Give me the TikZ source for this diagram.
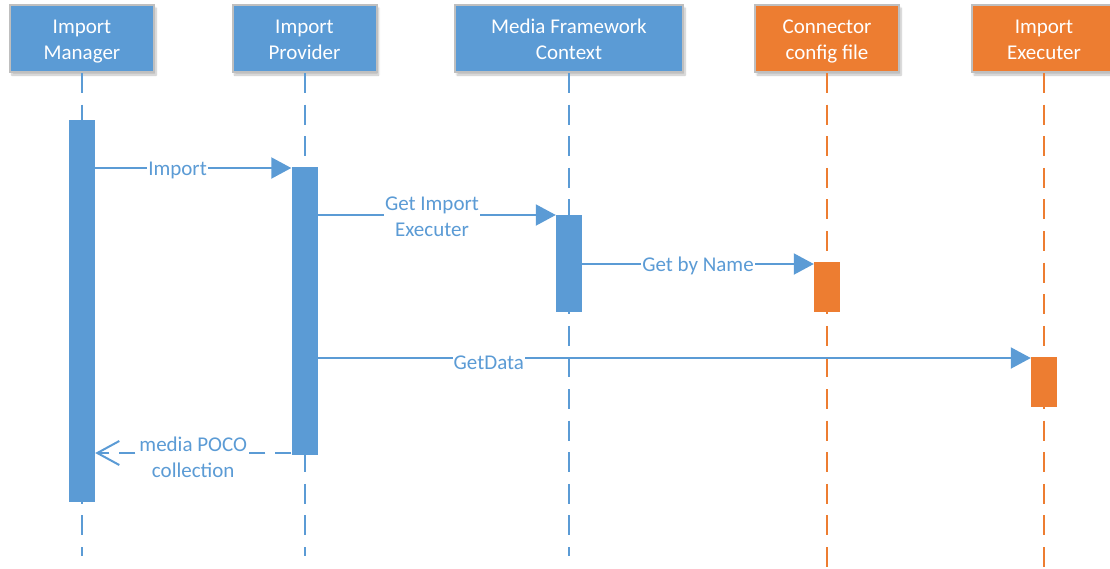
\documentclass[tikz,border=0pt]{standalone}
\usepackage{fontspec}
\setmainfont{Carlito}
\usetikzlibrary{arrows.meta,shadows.blur}
\definecolor{cblue}{HTML}{5B9BD5}
\definecolor{corange}{HTML}{ED7D31}
\definecolor{cgray}{HTML}{BFBFBF}
\newcommand\topst{\rule{0pt}{19pt}}
\newcommand\botst{\rule[-3pt]{0pt}{3pt}}
\newcommand\onest{\rule[-5pt]{0pt}{24pt}}
\begin{document}
\begin{tikzpicture}[x=1pt,y=-1pt,
  hdr/.style={draw=cgray,line width=2pt,text=white,align=center,
    minimum width=144pt,minimum height=67pt,inner sep=0pt,
    font=\fontsize{21}{26}\selectfont,
    blur shadow={shadow xshift=2pt,shadow yshift=-3pt,shadow blur steps=6,shadow opacity=25}},
  bluehdr/.style={hdr,fill=cblue},
  orangehdr/.style={hdr,fill=corange},
  life/.style={line width=2pt,dash pattern=on 20pt off 11.6pt},
  bar/.style={minimum width=26pt,inner sep=0pt,anchor=north},
  msg/.style={cblue,line width=2pt,-{Triangle[length=20pt,width=21pt]}},
  ret/.style={cblue,line width=2pt,dash pattern=on 16pt off 10pt,-{Straight Barb[length=22pt,width=24pt,line width=2pt]}},
  lbl/.style={fill=white,text=cblue,align=center,inner sep=1pt,font=\fontsize{21}{26}\selectfont}]
\useasboundingbox (0,0) rectangle (1110,568);
\begin{scope}
\clip (0,0) rectangle (1110,568);
% header boxes
\node[bluehdr] (hm) at (82,38.5) {\topst Import\\Manager\botst};
\node[bluehdr] (hp) at (304.5,38.5) {\topst Import\\Provider\botst};
\node[bluehdr,minimum width=228pt] (hc) at (569,38.5) {\topst Media Framework\\Context\botst};
\node[orangehdr] (hf) at (827,38.5) {\topst Connector\\config file\botst};
\node[orangehdr] (he) at (1044,38.5) {\topst Import\\Executer\botst};
% lifeline ends
\coordinate (em) at (82,556);
\coordinate (ep) at (304.5,556);
\coordinate (ec) at (569,556);
\coordinate (ef) at (827,570);
\coordinate (ee) at (1044,570);
\draw[life,cblue] (hm.south) -- (em);
\draw[life,cblue] (hp.south) -- (ep);
\draw[life,cblue] (hc.south) -- (ec);
\draw[life,corange] (hf.south) -- (ef);
\draw[life,corange] (he.south) -- (ee);
% activation bars
\node[bar,fill=cblue,minimum height=382pt] (bm) at (82,120) {};
\node[bar,fill=cblue,minimum height=288pt] (bp) at (304.5,167) {};
\node[bar,fill=cblue,minimum height=97pt] (bc) at (569,215) {};
\node[bar,fill=corange,minimum height=50pt] (bf) at (827,262) {};
\node[bar,fill=corange,minimum height=50pt] (be) at (1044,357) {};
% messages
\draw[msg] (bm.east |- 0,168) -- node[lbl,pos=0.42]{\onest Import} (bp.west |- 0,168);
\draw[msg] (bp.east |- 0,215) -- node[lbl,pos=0.48]{\topst Get Import\\Executer\botst} (bc.west |- 0,215);
\draw[msg] (bc.east |- 0,264) -- node[lbl,pos=0.5]{\onest Get by Name} (bf.west |- 0,264);
\draw[msg] (bp.east |- 0,358) -- node[lbl,pos=0.24,yshift=-4pt]{\onest GetData} (be.west |- 0,358);
\draw[ret] (bp.west |- 0,453) -- node[lbl,pos=0.5,yshift=-3pt]{\topst media POCO\\collection\botst} (bm.east |- 0,453);
\end{scope}
\end{tikzpicture}
\end{document}
